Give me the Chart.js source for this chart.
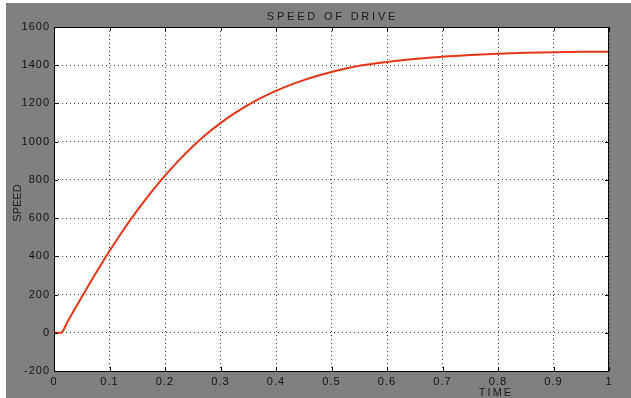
<!DOCTYPE html>
<html>
<head>
<meta charset="utf-8">
<script src="https://cdn.jsdelivr.net/npm/chart.js@4"></script>
<style>
  body { margin: 0; background: #fff; }
  #wrap { width: 631px; height: 398px; }
</style>
</head>
<body>
<div id="wrap"><canvas id="speedChart" width="631" height="398"></canvas></div>
<script>
// values
const timeVals = [0, 0.0126, 0.025, 0.05, 0.075, 0.1, 0.125, 0.15, 0.175, 0.2, 0.225, 0.25, 0.275,
  0.3, 0.325, 0.35, 0.375, 0.4, 0.425, 0.45, 0.475, 0.5, 0.55, 0.6, 0.65, 0.7, 0.75, 0.8, 0.85,
  0.9, 0.95, 1.0];
const speedVals = [0, 0, 62, 187, 310, 428, 538, 640, 735, 822, 902, 975, 1040,
  1097, 1148, 1193, 1232, 1266, 1296, 1322, 1345, 1365, 1397, 1417, 1432, 1444, 1453, 1460, 1465,
  1468, 1470, 1471];
const xTicks = [0, 0.1, 0.2, 0.3, 0.4, 0.5, 0.6, 0.7, 0.8, 0.9, 1];
const yTicks = [-200, 0, 200, 400, 600, 800, 1000, 1200, 1400, 1600];

const chartTitle = 'SPEED OF DRIVE';
const xTitle = 'TIME';
const yTitle = 'SPEED';

const points = timeVals.map((t, i) => ({ x: t, y: speedVals[i] }));

// gray figure background, white axes box, frame with inward ticks, titles
const matlabLook = {
  id: 'matlabLook',
  beforeLayout(chart) {
    chart.ctx.letterSpacing = '1px';
  },
  beforeDraw(chart) {
    const { ctx, chartArea: a, width, height } = chart;
    ctx.save();
    ctx.fillStyle = '#fff';
    ctx.fillRect(0, 0, width, height);
    ctx.fillStyle = '#808080';
    ctx.fillRect(6, 3, width - 6, height - 3);
    ctx.fillStyle = '#fff';
    ctx.fillRect(a.left, a.top, a.right - a.left, a.bottom - a.top);
    ctx.restore();
    ctx.letterSpacing = '1px';
  },
  afterDraw(chart) {
    const { ctx, chartArea: a } = chart;
    const xs = chart.scales.x, ys = chart.scales.y;
    ctx.save();
    ctx.strokeStyle = '#000';
    ctx.lineWidth = 1;
    ctx.setLineDash([]);
    ctx.strokeRect(a.left + 0.5, a.top + 0.5, a.right - a.left - 1, a.bottom - a.top);
    ctx.beginPath();
    xs.ticks.forEach(t => {
      const px = Math.round(xs.getPixelForValue(t.value)) + 0.5;
      ctx.moveTo(px, a.top); ctx.lineTo(px, a.top + 4);
      ctx.moveTo(px, a.bottom); ctx.lineTo(px, a.bottom - 4);
    });
    ys.ticks.forEach(t => {
      const py = Math.round(ys.getPixelForValue(t.value)) + 0.5;
      ctx.moveTo(a.left, py); ctx.lineTo(a.left + 4, py);
      ctx.moveTo(a.right, py); ctx.lineTo(a.right - 4, py);
    });
    ctx.stroke();

    ctx.fillStyle = '#1a1a1a';
    ctx.font = '11px "Liberation Sans", Arial, sans-serif';
    ctx.textAlign = 'center';
    ctx.textBaseline = 'middle';
    ctx.letterSpacing = '2.8px';
    ctx.fillText(chartTitle, (a.left + a.right) / 2 + 1, 17);
    ctx.letterSpacing = '2px';
    ctx.fillText(xTitle, xs.getPixelForValue(0.8) - 2, 393);
    ctx.letterSpacing = '0px';
    ctx.translate(18, 203);
    ctx.rotate(-Math.PI / 2);
    ctx.fillText(yTitle, 0, 0);
    ctx.restore();
  }
};

const gridColor = '#3a3a3a';

new Chart(document.getElementById('speedChart').getContext('2d'), {
  type: 'line',
  data: {
    datasets: [{
      label: 'Speed',
      data: points,
      borderColor: 'rgb(232, 52, 22)',
      borderWidth: 2,
      pointRadius: 0,
      fill: false,
      cubicInterpolationMode: 'monotone'
    }]
  },
  options: {
    responsive: false,
    animation: false,
    layout: { padding: { left: 0, top: 27, right: 22, bottom: 0 } },
    plugins: {
      legend: { display: false },
      title: { display: false },
      tooltip: { enabled: false }
    },
    scales: {
      x: {
        type: 'linear',
        min: xTicks[0],
        max: xTicks[xTicks.length - 1],
        afterBuildTicks: s => { s.ticks = xTicks.map(v => ({ value: v })); },
        afterFit: s => { s.height = 27; },
        grid: { color: gridColor, lineWidth: 1, drawTicks: false },
        border: { display: false, dash: [1, 3] },
        ticks: {
          padding: 4,
          color: '#111',
          font: { family: '"Liberation Sans", Arial, sans-serif', size: 11 },
          callback: v => String(v),
          maxRotation: 0
        }
      },
      y: {
        min: yTicks[0],
        max: yTicks[yTicks.length - 1],
        afterBuildTicks: s => { s.ticks = yTicks.map(v => ({ value: v })); },
        afterFit: s => { s.width = 54; },
        grid: { color: gridColor, lineWidth: 1, drawTicks: false },
        border: { display: false, dash: [1, 3] },
        ticks: {
          padding: 4,
          color: '#111',
          font: { family: '"Liberation Sans", Arial, sans-serif', size: 11 },
          callback: v => String(v)
        }
      }
    }
  },
  plugins: [matlabLook]
});
</script>
</body>
</html>
